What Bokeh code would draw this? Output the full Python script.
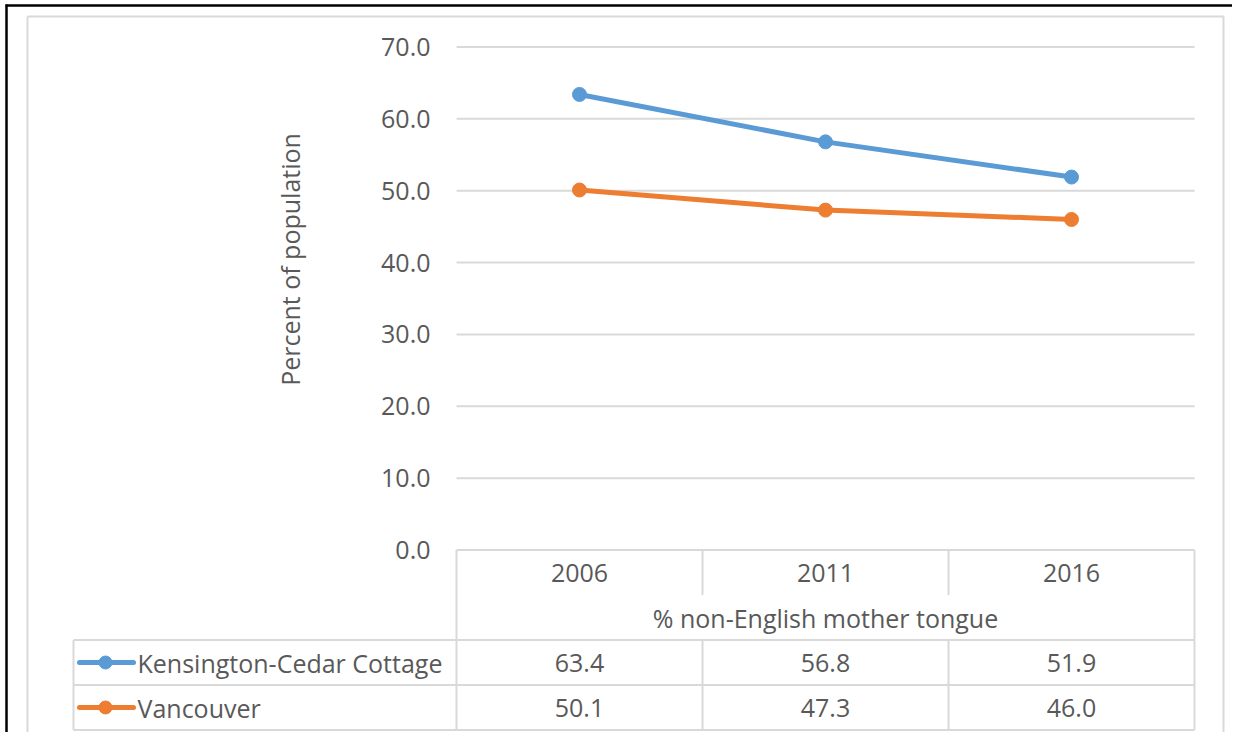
from bokeh.plotting import figure
from bokeh.models import Range1d
from bokeh.core.properties import value
from bokeh.embed import file_html
from bokeh.resources import INLINE

# ---- data ----
years = ["2006", "2011", "2016"]
series_names = ["Kensington-Cedar Cottage", "Vancouver"]
kensington = [63.4, 56.8, 51.9]
vancouver = [50.1, 47.3, 46.0]
y_ticks = [0, 10, 20, 30, 40, 50, 60, 70]
y_title = "Percent of population"
x_title = "% non-English mother tongue"

# ---- style ----
colors = ["#5B9BD5", "#ED7D31"]
FONT = value("Open Sans")
FS = "25px"
TXT = "#595959"
GRID = "#D9D9D9"
LW = 5
MS = 14

# ---- layout (pixels inside the figure) ----
W, H = 1232, 732
PX0, COLW = 456, 246          # left edge of first category column, column width
PY0, PY70 = 549.5, 46.5       # pixel rows of 0 and 70
ROWH = 45                     # data-table row height
LEG_LEFT = 73
BOX = (27, 16, 1223, 742)     # chart-area border (l, t, r, b)

ppu = (PY0 - PY70) / 70.0


def px2x(px):
    return -0.5 + (px - PX0) / COLW


def py2y(py):
    return (PY0 - py) / ppu


def py2r(py):
    return (py - PY0) / ROWH


p = figure(width=W, height=H, output_backend="svg", toolbar_location=None,
           x_range=Range1d(px2x(0), px2x(W)), y_range=Range1d(py2y(H), py2y(0)),
           x_axis_location=None, y_axis_location=None,
           min_border_left=0, min_border_right=0, min_border_top=0, min_border_bottom=0,
           outline_line_color=None,
           background_fill_color="white", border_fill_color="white")
p.grid.visible = False
p.extra_y_ranges = {"tbl": Range1d(py2r(H), py2r(0))}

# outer decorations: black top/left rule and grey chart-area border
p.segment(x0=[px2x(5), px2x(6)], x1=[px2x(W), px2x(6)], y0=[py2y(5), py2y(4)],
          y1=[py2y(5), py2y(H)], line_color="#000000", line_width=2.5)
l, t, r, b = BOX
p.segment(x0=[px2x(l), px2x(l), px2x(r), px2x(l)], x1=[px2x(r), px2x(l), px2x(r), px2x(r)],
          y0=[py2y(t), py2y(t), py2y(t), py2y(b)], y1=[py2y(t), py2y(b), py2y(b), py2y(b)],
          line_color=GRID, line_width=2)

n = len(years)
xs = list(range(n))
x_lo, x_hi = -0.5, n - 0.5

# gridlines
p.segment(x0=[x_lo] * len(y_ticks), x1=[x_hi] * len(y_ticks), y0=y_ticks, y1=y_ticks,
          line_color=GRID, line_width=2)
# y tick labels
p.text(x=[x_lo] * len(y_ticks), y=y_ticks, text=[f"{t:.1f}" for t in y_ticks],
       x_offset=-26, text_align="right", text_baseline="middle",
       text_font=FONT, text_font_size=FS, text_color=TXT)
# y title
p.text(x=[px2x(289)], y=[py2y(259)], text=[y_title], angle=1.5707963,
       text_align="center", text_baseline="middle",
       text_font=FONT, text_font_size=FS, text_color=TXT)

# data lines
for vals, c in zip([kensington, vancouver], colors):
    p.line(xs, vals, line_color=c, line_width=LW, line_cap="round", line_join="round")
    p.scatter(xs, vals, size=MS, fill_color=c, line_color=c)

# ---- data table ----
tl = dict(line_color=GRID, line_width=2, y_range_name="tbl")
leg_x = px2x(LEG_LEFT)
p.segment(x0=[leg_x] * 3, x1=[x_hi] * 3, y0=[2, 3, 4], y1=[2, 3, 4], **tl)
p.segment(x0=[x_lo, x_hi], x1=[x_lo, x_hi], y0=[0, 0], y1=[4, 4], **tl)
p.segment(x0=[leg_x], x1=[leg_x], y0=[2], y1=[4], **tl)
inner = [i + 0.5 for i in range(n - 1)]
p.segment(x0=inner, x1=inner, y0=[0] * len(inner), y1=[1] * len(inner), **tl)
p.segment(x0=inner, x1=inner, y0=[2] * len(inner), y1=[4] * len(inner), **tl)

tt = dict(text_font=FONT, text_font_size=FS, text_color=TXT, text_baseline="middle",
          y_range_name="tbl")
p.text(x=xs, y=[0.5] * n, text=years, text_align="center", **tt)
p.text(x=[(n - 1) / 2], y=[1.5], text=[x_title], text_align="center", **tt)
for ri, (vals, name, c) in enumerate(zip([kensington, vancouver], series_names, colors)):
    row = 2.5 + ri
    p.text(x=xs, y=[row] * n, text=[f"{v:.1f}" for v in vals], text_align="center", **tt)
    p.segment(x0=[px2x(79)], x1=[px2x(133)], y0=[row], y1=[row], line_color=c,
              line_width=LW, line_cap="round", y_range_name="tbl")
    p.scatter([px2x(105)], [row], size=MS - 1, fill_color=c, line_color=c, y_range_name="tbl")
    p.text(x=[px2x(137)], y=[row], text=[name], text_align="left", **tt)

open("out.html", "w").write(file_html(p, INLINE))
